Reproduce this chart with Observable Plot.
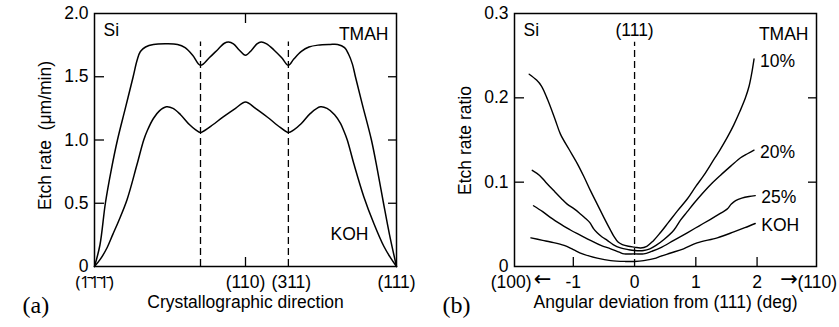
<!DOCTYPE html>
<html><head><meta charset="utf-8">
<script src="https://cdn.jsdelivr.net/npm/d3@7"></script>
<script src="https://cdn.jsdelivr.net/npm/@observablehq/plot@0.6"></script>
<style>
body{margin:0;background:#fff;}
#wrap{display:flex;width:839px;height:327px;overflow:hidden;}
</style></head><body><div id="wrap"></div>
<script>
// ---------- Panel (a) data : position along the direction path (0 = (-1-1-1), 100 = (111)) ----------
const tmahPos  = [0,1.8,3.6,5.6,7.6,10.2,12.8,14.1,15.2,16.9,19.5,23.5,27.5,30,32.5,35.1,38,41,43,44.4,46,48,50,52,53.8,55.2,57,59.5,62,64.2,66,68.5,71,74,78,80.5,82.8,84.1,85.4,86.4,88.7,91.7,93.7,95.7,97.7,100];
const tmahRate = [0,0.17,0.5,0.77,1.0,1.25,1.5,1.63,1.7,1.735,1.755,1.76,1.755,1.73,1.67,1.59,1.65,1.72,1.765,1.775,1.76,1.71,1.67,1.71,1.76,1.775,1.76,1.71,1.65,1.59,1.64,1.70,1.735,1.75,1.755,1.755,1.73,1.68,1.6,1.5,1.28,1.0,0.76,0.5,0.25,0];
const kohPos   = [0,2,4.2,6,8,10.8,14,16.3,17.5,19.5,21.5,23.8,26,28.5,31.5,33.5,35.1,38,42.5,46.7,50,53.3,57.3,61.5,64.2,66,68.5,71.5,74.8,77,79.5,81.5,82.5,83.7,85.9,89.2,92.5,95.8,98,100];
const kohRate  = [0,0.06,0.15,0.25,0.36,0.53,0.8,1.0,1.075,1.17,1.23,1.262,1.25,1.2,1.12,1.08,1.06,1.1,1.18,1.25,1.3,1.25,1.18,1.1,1.06,1.08,1.13,1.21,1.262,1.25,1.2,1.13,1.075,1.0,0.81,0.55,0.34,0.16,0.07,0];
const dashPosA = [35.1, 64.2];
const aTickPos = [0, 50, 65.2, 100];
const aTickLabels = ["(1\u03041\u03041\u0304)", "(110)", "(311)", "(111)"];
const aYTicks = [0, 0.5, 1.0, 1.5, 2.0];

// ---------- Panel (b) data : angular deviation from (111) in degrees ----------
const dev10   = [-1.72,-1.60,-1.52,-1.42,-1.30,-1.21,-1.07,-0.935,-0.83,-0.72,-0.61,-0.50,-0.40,-0.34,-0.27,-0.20,-0.10,0,0.10,0.20,0.30,0.42,0.55,0.70,0.86,1.00,1.13,1.27,1.40,1.52,1.62,1.72,1.81,1.87,1.91,1.95];
const ratio10 = [0.228,0.221,0.214,0.198,0.175,0.157,0.139,0.122,0.107,0.090,0.074,0.058,0.044,0.036,0.029,0.026,0.024,0.023,0.022,0.024,0.030,0.040,0.052,0.066,0.080,0.095,0.108,0.124,0.139,0.154,0.168,0.184,0.200,0.214,0.228,0.246];
const dev20   = [-1.67,-1.55,-1.45,-1.32,-1.20,-1.10,-0.98,-0.88,-0.80,-0.73,-0.67,-0.61,-0.53,-0.445,-0.35,-0.23,-0.10,0,0.15,0.25,0.35,0.48,0.64,0.75,0.86,0.97,1.10,1.24,1.40,1.57,1.73,1.85,1.95];
const ratio20 = [0.114,0.108,0.100,0.090,0.081,0.074,0.068,0.062,0.057,0.052,0.045,0.040,0.035,0.031,0.026,0.022,0.020,0.019,0.019,0.021,0.025,0.032,0.043,0.055,0.065,0.075,0.086,0.097,0.108,0.119,0.129,0.134,0.138];
const dev25   = [-1.65,-1.50,-1.37,-1.20,-1.04,-0.88,-0.72,-0.55,-0.39,-0.25,-0.17,0,0.15,0.28,0.42,0.64,0.86,1.05,1.24,1.40,1.51,1.58,1.65,1.75,1.87,1.97];
const ratio25 = [0.072,0.065,0.058,0.050,0.043,0.037,0.031,0.025,0.021,0.017,0.015,0.015,0.015,0.018,0.022,0.031,0.040,0.048,0.056,0.063,0.068,0.074,0.078,0.081,0.083,0.084];
const devKOH  = [-1.69,-1.50,-1.37,-1.15,-1.00,-0.85,-0.61,-0.39,-0.15,0,0.15,0.35,0.42,0.59,0.80,1.02,1.35,1.62,1.80,1.97];
const ratioKOH= [0.034,0.031,0.029,0.025,0.020,0.015,0.010,0.007,0.006,0.006,0.007,0.010,0.012,0.016,0.021,0.028,0.034,0.041,0.046,0.051];
const bSeries = ["10%", "20%", "25%", "KOH"];
const bXTicks = [-1, 0, 1, 2];
const bYTicks = [0, 0.1, 0.2, 0.3];
const dashPosB = [0];

// ---------- build tables ----------
const tmahTable = tmahPos.map((p, i) => ({pos: p, rate: tmahRate[i]}));
const kohTable  = kohPos.map((p, i) => ({pos: p, rate: kohRate[i]}));
const bDev = [dev10, dev20, dev25, devKOH], bRatio = [ratio10, ratio20, ratio25, ratioKOH];
const bTable = bSeries.flatMap((s, k) => bDev[k].map((d, i) => ({series: s, dev: d, ratio: bRatio[k][i]})));

const SANS = "'Liberation Sans', Arial, Helvetica, sans-serif";
const SERIF = "'Liberation Serif', 'Times New Roman', serif";
const styleBase = {fontFamily: SANS, fontSize: "17.5px", color: "#000", background: "#fff", overflow: "visible"};
const fmtY = d => d === 0 ? "0" : d.toFixed(1);
const blank = () => "";
const aLabelMap = new Map(aTickPos.map((p, i) => [p, aTickLabels[i]]));
const PAD = 9;

const plotA = Plot.plot({
  width: 420, height: 327,
  marginLeft: 94, marginRight: 24, marginTop: 13, marginBottom: 61,
  style: styleBase,
  x: {domain: [0, 100]},
  y: {domain: [0, 2]},
  marks: [
    Plot.ruleX(dashPosA, {y1: 0, y2: 1.775, stroke: "#000", strokeWidth: 1.3, strokeDasharray: "7,4"}),
    Plot.line(tmahTable, {x: "pos", y: "rate", curve: "catmull-rom", stroke: "#000", strokeWidth: 1.5}),
    Plot.line(kohTable, {x: "pos", y: "rate", curve: "catmull-rom", stroke: "#000", strokeWidth: 1.5}),
    Plot.frame({stroke: "#000", strokeWidth: 1.5}),
    Plot.axisY({ticks: aYTicks, tickSize: 0, tickPadding: 6, tickFormat: fmtY, label: null}),
    Plot.axisY({ticks: [0.5, 1.0, 1.5], tickSize: -10, tickFormat: blank, label: null, strokeWidth: 1.3}),
    Plot.axisY({ticks: [0.5, 1.0, 1.5], anchor: "right", tickSize: -9, tickFormat: blank, label: null, strokeWidth: 1.3}),
    Plot.axisX({ticks: aTickPos.slice(1), tickSize: 0, tickPadding: PAD, tickFormat: d => aLabelMap.get(d), label: null}),
    Plot.axisX({ticks: aTickPos.slice(0, 1), tickSize: 0, tickPadding: PAD + 1, tickFormat: d => aLabelMap.get(d), label: null, fontFamily: "'Noto Sans'", fontSize: 16.5}),
    Plot.axisX({ticks: [50], tickSize: -9, tickFormat: blank, label: null, strokeWidth: 1.3}),
    Plot.axisX({ticks: [50], anchor: "top", tickSize: -9, tickFormat: blank, label: null, strokeWidth: 1.3}),
    Plot.text(["Etch rate\u00a0\u00a0(\u03bcm/min)"], {frameAnchor: "left", dx: -49, dy: -4.5, rotate: -90, textAnchor: "middle", lineAnchor: "middle"}),
    Plot.text(["Crystallographic direction"], {frameAnchor: "bottom", dy: 36, lineAnchor: "middle"}),
    Plot.text(["(a)"], {frameAnchor: "bottom-left", dx: -72, dy: 39, lineAnchor: "middle", fontFamily: SERIF, fontSize: 24}),
    Plot.text(["Si"], {frameAnchor: "top-left", dx: 9, dy: 17, textAnchor: "start", lineAnchor: "middle"}),
    Plot.text(["TMAH"], {frameAnchor: "top-right", dx: -8, dy: 21, textAnchor: "end", lineAnchor: "middle"}),
    Plot.text(["KOH"], {frameAnchor: "bottom-right", dx: -28, dy: -32, textAnchor: "end", lineAnchor: "middle"})
  ]
});

const plotB = Plot.plot({
  width: 419, height: 327,
  marginLeft: 94, marginRight: 23, marginTop: 13, marginBottom: 61,
  style: styleBase,
  x: {domain: [-1.96, 2.97]},
  y: {domain: [0, 0.3]},
  marks: [
    Plot.ruleX(dashPosB, {y1: 0, y2: 0.266, stroke: "#000", strokeWidth: 1.3, strokeDasharray: "7,4"}),
    Plot.line(bTable, {x: "dev", y: "ratio", z: "series", curve: "catmull-rom", stroke: "#000", strokeWidth: 1.4}),
    Plot.frame({stroke: "#000", strokeWidth: 1.5}),
    Plot.axisY({ticks: bYTicks, tickSize: 0, tickPadding: 6, tickFormat: fmtY, label: null}),
    Plot.axisY({ticks: [0.1, 0.2], tickSize: -10, tickFormat: blank, label: null, strokeWidth: 1.3}),
    Plot.axisY({ticks: [0.1, 0.2], anchor: "right", tickSize: -9, tickFormat: blank, label: null, strokeWidth: 1.3}),
    Plot.axisX({ticks: bXTicks, tickSize: 0, tickPadding: PAD, tickFormat: d => String(d), label: null}),
    Plot.axisX({ticks: [-1, 1, 2], tickSize: -9, tickFormat: blank, label: null, strokeWidth: 1.3}),
    Plot.text(["(100)"], {frameAnchor: "bottom-left", dx: 17, dy: PAD, textAnchor: "end", lineAnchor: "top"}),
    Plot.text(["\u2190"], {frameAnchor: "bottom-left", dx: 28, dy: PAD + 4, textAnchor: "middle", lineAnchor: "middle", fontFamily: "DejaVu Sans", fontSize: 21}),
    Plot.text(["\u2192"], {frameAnchor: "bottom-right", dx: -27.5, dy: PAD + 4, textAnchor: "middle", lineAnchor: "middle", fontFamily: "DejaVu Sans", fontSize: 21}),
    Plot.text(["(110)"], {frameAnchor: "bottom-right", dx: -19, dy: PAD, textAnchor: "start", lineAnchor: "top"}),
    Plot.text(["Etch rate ratio"], {frameAnchor: "left", dx: -49, dy: 0.5, rotate: -90, textAnchor: "middle", lineAnchor: "middle"}),
    Plot.text(["Angular deviation from (111) (deg)"], {frameAnchor: "bottom", dy: 36, lineAnchor: "middle"}),
    Plot.text(["(b)"], {frameAnchor: "bottom-left", dx: -72, dy: 39, lineAnchor: "middle", fontFamily: SERIF, fontSize: 24}),
    Plot.text(["Si"], {frameAnchor: "top-left", dx: 9, dy: 17, textAnchor: "start", lineAnchor: "middle"}),
    Plot.text(["(111)"], {x: dashPosB, frameAnchor: "top", dy: 17, lineAnchor: "middle"}),
    Plot.text(["TMAH"], {frameAnchor: "top-right", dx: -8, dy: 21, textAnchor: "end", lineAnchor: "middle"}),
    Plot.text(bTable, Plot.selectLast({x: "dev", y: "ratio", z: "series", text: "series", dx: 6, dy: 2, textAnchor: "start", lineAnchor: "middle"}))
  ]
});

document.getElementById("wrap").append(plotA, plotB);
</script></body></html>
